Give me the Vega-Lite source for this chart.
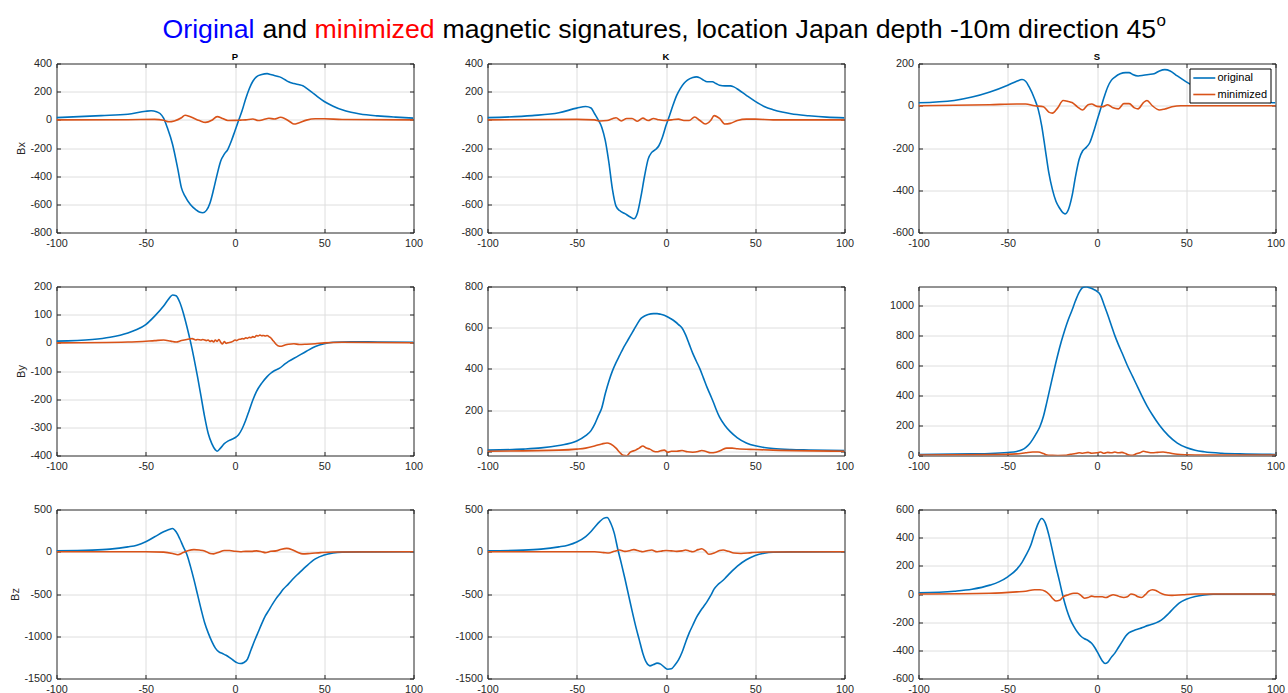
{
"$schema": "https://vega.github.io/schema/vega-lite/v6.json",
"padding": {"left": 8.5, "top": 12, "right": 0, "bottom": 0},
"background": "white",
"datasets": {
"PBx": [
{"series":"original","x":-100,"y":16},{"series":"original","x":-75,"y":30},{"series":"original","x":-60,"y":40},{"series":"original","x":-50,"y":61},{"series":"original","x":-47,"y":64},{"series":"original","x":-44,"y":58},{"series":"original","x":-42,"y":45},{"series":"original","x":-40,"y":12},{"series":"original","x":-38,"y":-53},{"series":"original","x":-35,"y":-173},{"series":"original","x":-32,"y":-352},{"series":"original","x":-30,"y":-483},{"series":"original","x":-28,"y":-542},{"series":"original","x":-25,"y":-602},{"series":"original","x":-22,"y":-638},{"series":"original","x":-20,"y":-655},{"series":"original","x":-18,"y":-660},{"series":"original","x":-16,"y":-643},{"series":"original","x":-14,"y":-590},{"series":"original","x":-12,"y":-495},{"series":"original","x":-10,"y":-387},{"series":"original","x":-8,"y":-292},{"series":"original","x":-6,"y":-244},{"series":"original","x":-4,"y":-209},{"series":"original","x":-2,"y":-149},{"series":"original","x":0,"y":-77},{"series":"original","x":2,"y":-5},{"series":"original","x":4,"y":66},{"series":"original","x":6,"y":150},{"series":"original","x":8,"y":221},{"series":"original","x":10,"y":274},{"series":"original","x":12,"y":305},{"series":"original","x":15,"y":322},{"series":"original","x":18,"y":328},{"series":"original","x":20,"y":322},{"series":"original","x":22,"y":315},{"series":"original","x":25,"y":305},{"series":"original","x":28,"y":285},{"series":"original","x":30,"y":270},{"series":"original","x":33,"y":258},{"series":"original","x":36,"y":249},{"series":"original","x":38,"y":242},{"series":"original","x":40,"y":225},{"series":"original","x":43,"y":197},{"series":"original","x":46,"y":166},{"series":"original","x":50,"y":130},{"series":"original","x":55,"y":97},{"series":"original","x":60,"y":71},{"series":"original","x":65,"y":54},{"series":"original","x":70,"y":42},{"series":"original","x":80,"y":28},{"series":"original","x":90,"y":19},{"series":"original","x":100,"y":12},
{"series":"minimized","x":-100,"y":0},{"series":"minimized","x":-60,"y":1},{"series":"minimized","x":-45,"y":3},{"series":"minimized","x":-40,"y":-3},{"series":"minimized","x":-37,"y":-14},{"series":"minimized","x":-34,"y":-8},{"series":"minimized","x":-30,"y":15},{"series":"minimized","x":-28,"y":33},{"series":"minimized","x":-25,"y":22},{"series":"minimized","x":-20,"y":-5},{"series":"minimized","x":-16.5,"y":-18},{"series":"minimized","x":-13,"y":-3},{"series":"minimized","x":-10,"y":23},{"series":"minimized","x":-7,"y":10},{"series":"minimized","x":-4,"y":-5},{"series":"minimized","x":0,"y":-4},{"series":"minimized","x":3,"y":-2},{"series":"minimized","x":6,"y":0},{"series":"minimized","x":10,"y":6},{"series":"minimized","x":13,"y":-5},{"series":"minimized","x":16,"y":2},{"series":"minimized","x":19,"y":11},{"series":"minimized","x":22,"y":6},{"series":"minimized","x":25.5,"y":18},{"series":"minimized","x":28,"y":8},{"series":"minimized","x":31,"y":-15},{"series":"minimized","x":33,"y":-30},{"series":"minimized","x":36,"y":-20},{"series":"minimized","x":40,"y":-2},{"series":"minimized","x":45,"y":8},{"series":"minimized","x":50,"y":8},{"series":"minimized","x":60,"y":2},{"series":"minimized","x":100,"y":0}
],
"KBx": [
{"series":"original","x":-100,"y":16},{"series":"original","x":-75,"y":30},{"series":"original","x":-60,"y":50},{"series":"original","x":-50,"y":83},{"series":"original","x":-45,"y":95},{"series":"original","x":-42,"y":84},{"series":"original","x":-40,"y":43},{"series":"original","x":-38,"y":0},{"series":"original","x":-36,"y":-52},{"series":"original","x":-34,"y":-148},{"series":"original","x":-32,"y":-303},{"series":"original","x":-30,"y":-494},{"series":"original","x":-28,"y":-613},{"series":"original","x":-26,"y":-644},{"series":"original","x":-23,"y":-666},{"series":"original","x":-20,"y":-690},{"series":"original","x":-18,"y":-702},{"series":"original","x":-16,"y":-661},{"series":"original","x":-14,"y":-542},{"series":"original","x":-12,"y":-399},{"series":"original","x":-10,"y":-279},{"series":"original","x":-8,"y":-231},{"series":"original","x":-6,"y":-212},{"series":"original","x":-4,"y":-184},{"series":"original","x":-2,"y":-124},{"series":"original","x":0,"y":-41},{"series":"original","x":2,"y":31},{"series":"original","x":4,"y":107},{"series":"original","x":6,"y":174},{"series":"original","x":8,"y":222},{"series":"original","x":10,"y":258},{"series":"original","x":12,"y":282},{"series":"original","x":15,"y":301},{"series":"original","x":17,"y":305},{"series":"original","x":19,"y":298},{"series":"original","x":21,"y":282},{"series":"original","x":23,"y":270},{"series":"original","x":26,"y":270},{"series":"original","x":28,"y":258},{"series":"original","x":30,"y":246},{"series":"original","x":33,"y":241},{"series":"original","x":36,"y":241},{"series":"original","x":38,"y":234},{"series":"original","x":41,"y":210},{"series":"original","x":45,"y":174},{"series":"original","x":50,"y":131},{"series":"original","x":55,"y":95},{"series":"original","x":60,"y":72},{"series":"original","x":65,"y":55},{"series":"original","x":70,"y":43},{"series":"original","x":80,"y":29},{"series":"original","x":90,"y":19},{"series":"original","x":100,"y":14},
{"series":"minimized","x":-100,"y":0},{"series":"minimized","x":-50,"y":3},{"series":"minimized","x":-40,"y":0},{"series":"minimized","x":-37,"y":-8},{"series":"minimized","x":-33,"y":-5},{"series":"minimized","x":-30,"y":8},{"series":"minimized","x":-28,"y":15},{"series":"minimized","x":-25,"y":-8},{"series":"minimized","x":-22,"y":10},{"series":"minimized","x":-19,"y":10},{"series":"minimized","x":-16,"y":-10},{"series":"minimized","x":-13,"y":12},{"series":"minimized","x":-10,"y":-5},{"series":"minimized","x":-7,"y":10},{"series":"minimized","x":-4,"y":0},{"series":"minimized","x":-1,"y":-5},{"series":"minimized","x":3,"y":0},{"series":"minimized","x":7,"y":5},{"series":"minimized","x":10,"y":-5},{"series":"minimized","x":13,"y":-5},{"series":"minimized","x":16,"y":20},{"series":"minimized","x":19,"y":-5},{"series":"minimized","x":22,"y":-30},{"series":"minimized","x":25,"y":-5},{"series":"minimized","x":27,"y":30},{"series":"minimized","x":30,"y":10},{"series":"minimized","x":33,"y":-30},{"series":"minimized","x":36,"y":-25},{"series":"minimized","x":40,"y":-5},{"series":"minimized","x":45,"y":5},{"series":"minimized","x":50,"y":5},{"series":"minimized","x":60,"y":0},{"series":"minimized","x":100,"y":0}
],
"SBx": [
{"series":"original","x":-100,"y":14},{"series":"original","x":-80,"y":25},{"series":"original","x":-70,"y":41},{"series":"original","x":-60,"y":65},{"series":"original","x":-50,"y":97},{"series":"original","x":-45,"y":116},{"series":"original","x":-42,"y":124},{"series":"original","x":-40,"y":116},{"series":"original","x":-38,"y":89},{"series":"original","x":-35,"y":33},{"series":"original","x":-33,"y":-15},{"series":"original","x":-31,"y":-94},{"series":"original","x":-29,"y":-205},{"series":"original","x":-27,"y":-317},{"series":"original","x":-25,"y":-396},{"series":"original","x":-23,"y":-452},{"series":"original","x":-21,"y":-484},{"series":"original","x":-19,"y":-507},{"series":"original","x":-18,"y":-512},{"series":"original","x":-16,"y":-491},{"series":"original","x":-14,"y":-428},{"series":"original","x":-12,"y":-333},{"series":"original","x":-10,"y":-253},{"series":"original","x":-8,"y":-213},{"series":"original","x":-6,"y":-197},{"series":"original","x":-4,"y":-174},{"series":"original","x":-2,"y":-126},{"series":"original","x":0,"y":-70},{"series":"original","x":2,"y":-15},{"series":"original","x":4,"y":41},{"series":"original","x":6,"y":89},{"series":"original","x":8,"y":120},{"series":"original","x":10,"y":136},{"series":"original","x":13,"y":152},{"series":"original","x":16,"y":157},{"series":"original","x":18,"y":157},{"series":"original","x":20,"y":148},{"series":"original","x":23,"y":141},{"series":"original","x":26,"y":144},{"series":"original","x":29,"y":148},{"series":"original","x":32,"y":152},{"series":"original","x":35,"y":165},{"series":"original","x":38,"y":171},{"series":"original","x":41,"y":165},{"series":"original","x":45,"y":141},{"series":"original","x":50,"y":113},{"series":"original","x":55,"y":89},{"series":"original","x":60,"y":68},{"series":"original","x":70,"y":41},{"series":"original","x":80,"y":28},{"series":"original","x":90,"y":20},{"series":"original","x":100,"y":14},
{"series":"minimized","x":-100,"y":0},{"series":"minimized","x":-60,"y":5},{"series":"minimized","x":-45,"y":8},{"series":"minimized","x":-40,"y":8},{"series":"minimized","x":-35,"y":0},{"series":"minimized","x":-30,"y":-5},{"series":"minimized","x":-27,"y":-30},{"series":"minimized","x":-25,"y":-35},{"series":"minimized","x":-22,"y":-10},{"series":"minimized","x":-19,"y":25},{"series":"minimized","x":-16,"y":20},{"series":"minimized","x":-14,"y":15},{"series":"minimized","x":-11,"y":-5},{"series":"minimized","x":-8,"y":-20},{"series":"minimized","x":-5,"y":5},{"series":"minimized","x":-3,"y":8},{"series":"minimized","x":0,"y":-3},{"series":"minimized","x":3,"y":-5},{"series":"minimized","x":6,"y":5},{"series":"minimized","x":9,"y":-10},{"series":"minimized","x":12,"y":-15},{"series":"minimized","x":15,"y":10},{"series":"minimized","x":18,"y":10},{"series":"minimized","x":21,"y":-10},{"series":"minimized","x":23,"y":-15},{"series":"minimized","x":26,"y":15},{"series":"minimized","x":28,"y":25},{"series":"minimized","x":31,"y":0},{"series":"minimized","x":35,"y":-20},{"series":"minimized","x":38,"y":-15},{"series":"minimized","x":42,"y":-5},{"series":"minimized","x":47,"y":0},{"series":"minimized","x":55,"y":0},{"series":"minimized","x":100,"y":0}
],
"PBy": [
{"series":"original","x":-100,"y":6},{"series":"original","x":-80,"y":12},{"series":"original","x":-70,"y":20},{"series":"original","x":-60,"y":35},{"series":"original","x":-55,"y":47},{"series":"original","x":-50,"y":65},{"series":"original","x":-45,"y":95},{"series":"original","x":-40,"y":131},{"series":"original","x":-37,"y":157},{"series":"original","x":-35,"y":170},{"series":"original","x":-33,"y":167},{"series":"original","x":-31,"y":145},{"series":"original","x":-29,"y":107},{"series":"original","x":-27,"y":59},{"series":"original","x":-25,"y":6},{"series":"original","x":-23,"y":-54},{"series":"original","x":-21,"y":-120},{"series":"original","x":-19,"y":-191},{"series":"original","x":-17,"y":-263},{"series":"original","x":-15,"y":-322},{"series":"original","x":-13,"y":-358},{"series":"original","x":-11,"y":-380},{"series":"original","x":-10,"y":-385},{"series":"original","x":-8,"y":-373},{"series":"original","x":-6,"y":-358},{"series":"original","x":-4,"y":-349},{"series":"original","x":-2,"y":-343},{"series":"original","x":0,"y":-337},{"series":"original","x":2,"y":-326},{"series":"original","x":4,"y":-305},{"series":"original","x":6,"y":-275},{"series":"original","x":8,"y":-239},{"series":"original","x":10,"y":-203},{"series":"original","x":12,"y":-173},{"series":"original","x":15,"y":-143},{"series":"original","x":18,"y":-120},{"series":"original","x":20,"y":-108},{"series":"original","x":22,"y":-99},{"series":"original","x":25,"y":-90},{"series":"original","x":28,"y":-75},{"series":"original","x":30,"y":-66},{"series":"original","x":35,"y":-48},{"series":"original","x":40,"y":-30},{"series":"original","x":45,"y":-13},{"series":"original","x":50,"y":-3},{"series":"original","x":55,"y":2},{"series":"original","x":65,"y":4},{"series":"original","x":80,"y":3},{"series":"original","x":100,"y":2},
{"series":"minimized","x":-100,"y":0},{"series":"minimized","x":-60,"y":3},{"series":"minimized","x":-45,"y":8},{"series":"minimized","x":-40,"y":10},{"series":"minimized","x":-36,"y":6},{"series":"minimized","x":-33,"y":3},{"series":"minimized","x":-30,"y":8},{"series":"minimized","x":-27,"y":12},{"series":"minimized","x":-25,"y":14},{"series":"minimized","x":-24,"y":15},{"series":"minimized","x":-22,"y":10},{"series":"minimized","x":-21,"y":12},{"series":"minimized","x":-19,"y":10},{"series":"minimized","x":-18,"y":12},{"series":"minimized","x":-16,"y":8},{"series":"minimized","x":-15,"y":10},{"series":"minimized","x":-14,"y":5},{"series":"minimized","x":-13,"y":8},{"series":"minimized","x":-12,"y":3},{"series":"minimized","x":-11,"y":10},{"series":"minimized","x":-10,"y":5},{"series":"minimized","x":-9,"y":12},{"series":"minimized","x":-8,"y":2},{"series":"minimized","x":-7,"y":-4},{"series":"minimized","x":-6,"y":5},{"series":"minimized","x":-5,"y":-2},{"series":"minimized","x":-4,"y":0},{"series":"minimized","x":-2,"y":3},{"series":"minimized","x":-1,"y":6},{"series":"minimized","x":0,"y":10},{"series":"minimized","x":1,"y":8},{"series":"minimized","x":2,"y":12},{"series":"minimized","x":3,"y":13},{"series":"minimized","x":4,"y":15},{"series":"minimized","x":5,"y":14},{"series":"minimized","x":6,"y":18},{"series":"minimized","x":7,"y":16},{"series":"minimized","x":8,"y":20},{"series":"minimized","x":9,"y":18},{"series":"minimized","x":10,"y":22},{"series":"minimized","x":11,"y":20},{"series":"minimized","x":12,"y":26},{"series":"minimized","x":13,"y":24},{"series":"minimized","x":14,"y":28},{"series":"minimized","x":15,"y":25},{"series":"minimized","x":16,"y":26},{"series":"minimized","x":17,"y":24},{"series":"minimized","x":18,"y":26},{"series":"minimized","x":19,"y":22},{"series":"minimized","x":20,"y":18},{"series":"minimized","x":21,"y":10},{"series":"minimized","x":22,"y":3},{"series":"minimized","x":23,"y":-5},{"series":"minimized","x":24,"y":-10},{"series":"minimized","x":26,"y":-12},{"series":"minimized","x":28,"y":-8},{"series":"minimized","x":30,"y":-5},{"series":"minimized","x":33,"y":-3},{"series":"minimized","x":36,"y":-6},{"series":"minimized","x":40,"y":-5},{"series":"minimized","x":45,"y":-3},{"series":"minimized","x":50,"y":0},{"series":"minimized","x":60,"y":2},{"series":"minimized","x":100,"y":0}
],
"KBy": [
{"series":"original","x":-100,"y":5},{"series":"original","x":-80,"y":10},{"series":"original","x":-70,"y":16},{"series":"original","x":-60,"y":28},{"series":"original","x":-50,"y":49},{"series":"original","x":-45,"y":75},{"series":"original","x":-42,"y":100},{"series":"original","x":-40,"y":130},{"series":"original","x":-38,"y":170},{"series":"original","x":-36,"y":210},{"series":"original","x":-34,"y":280},{"series":"original","x":-32,"y":340},{"series":"original","x":-30,"y":390},{"series":"original","x":-28,"y":430},{"series":"original","x":-26,"y":465},{"series":"original","x":-24,"y":500},{"series":"original","x":-22,"y":530},{"series":"original","x":-20,"y":560},{"series":"original","x":-18,"y":590},{"series":"original","x":-16,"y":620},{"series":"original","x":-14,"y":645},{"series":"original","x":-12,"y":657},{"series":"original","x":-10,"y":664},{"series":"original","x":-7,"y":668},{"series":"original","x":-5,"y":668},{"series":"original","x":-3,"y":665},{"series":"original","x":-1,"y":660},{"series":"original","x":1,"y":652},{"series":"original","x":3,"y":642},{"series":"original","x":5,"y":630},{"series":"original","x":7,"y":615},{"series":"original","x":9,"y":598},{"series":"original","x":11,"y":565},{"series":"original","x":13,"y":520},{"series":"original","x":15,"y":475},{"series":"original","x":17,"y":437},{"series":"original","x":19,"y":400},{"series":"original","x":21,"y":355},{"series":"original","x":23,"y":310},{"series":"original","x":25,"y":270},{"series":"original","x":27,"y":228},{"series":"original","x":28,"y":205},{"series":"original","x":30,"y":165},{"series":"original","x":33,"y":125},{"series":"original","x":36,"y":95},{"series":"original","x":40,"y":65},{"series":"original","x":45,"y":40},{"series":"original","x":50,"y":26},{"series":"original","x":55,"y":18},{"series":"original","x":60,"y":13},{"series":"original","x":70,"y":8},{"series":"original","x":80,"y":6},{"series":"original","x":100,"y":3},
{"series":"minimized","x":-100,"y":0},{"series":"minimized","x":-60,"y":5},{"series":"minimized","x":-50,"y":10},{"series":"minimized","x":-45,"y":15},{"series":"minimized","x":-40,"y":25},{"series":"minimized","x":-36,"y":35},{"series":"minimized","x":-33,"y":40},{"series":"minimized","x":-31,"y":35},{"series":"minimized","x":-28,"y":15},{"series":"minimized","x":-26,"y":-5},{"series":"minimized","x":-24,"y":-20},{"series":"minimized","x":-22,"y":-22},{"series":"minimized","x":-20,"y":-5},{"series":"minimized","x":-17,"y":5},{"series":"minimized","x":-15,"y":15},{"series":"minimized","x":-13,"y":25},{"series":"minimized","x":-11,"y":15},{"series":"minimized","x":-9,"y":10},{"series":"minimized","x":-7,"y":0},{"series":"minimized","x":-5,"y":-3},{"series":"minimized","x":-3,"y":2},{"series":"minimized","x":-1,"y":5},{"series":"minimized","x":1,"y":-5},{"series":"minimized","x":3,"y":0},{"series":"minimized","x":6,"y":0},{"series":"minimized","x":9,"y":3},{"series":"minimized","x":12,"y":-3},{"series":"minimized","x":15,"y":-5},{"series":"minimized","x":18,"y":-2},{"series":"minimized","x":20,"y":3},{"series":"minimized","x":22,"y":0},{"series":"minimized","x":25,"y":-8},{"series":"minimized","x":28,"y":-5},{"series":"minimized","x":31,"y":5},{"series":"minimized","x":34,"y":15},{"series":"minimized","x":37,"y":15},{"series":"minimized","x":40,"y":12},{"series":"minimized","x":50,"y":8},{"series":"minimized","x":60,"y":5},{"series":"minimized","x":100,"y":0}
],
"SBy": [
{"series":"original","x":-100,"y":4},{"series":"original","x":-70,"y":8},{"series":"original","x":-60,"y":10},{"series":"original","x":-50,"y":17},{"series":"original","x":-45,"y":24},{"series":"original","x":-42,"y":35},{"series":"original","x":-40,"y":50},{"series":"original","x":-38,"y":72},{"series":"original","x":-36,"y":105},{"series":"original","x":-34,"y":145},{"series":"original","x":-32,"y":190},{"series":"original","x":-30,"y":260},{"series":"original","x":-28,"y":360},{"series":"original","x":-26,"y":465},{"series":"original","x":-24,"y":570},{"series":"original","x":-22,"y":670},{"series":"original","x":-20,"y":760},{"series":"original","x":-18,"y":840},{"series":"original","x":-16,"y":910},{"series":"original","x":-14,"y":970},{"series":"original","x":-12,"y":1035},{"series":"original","x":-10,"y":1090},{"series":"original","x":-8,"y":1122},{"series":"original","x":-6,"y":1128},{"series":"original","x":-4,"y":1120},{"series":"original","x":-2,"y":1110},{"series":"original","x":0,"y":1097},{"series":"original","x":2,"y":1070},{"series":"original","x":4,"y":1005},{"series":"original","x":6,"y":940},{"series":"original","x":8,"y":870},{"series":"original","x":10,"y":800},{"series":"original","x":12,"y":740},{"series":"original","x":14,"y":685},{"series":"original","x":17,"y":600},{"series":"original","x":20,"y":525},{"series":"original","x":23,"y":450},{"series":"original","x":25,"y":400},{"series":"original","x":28,"y":330},{"series":"original","x":31,"y":270},{"series":"original","x":35,"y":200},{"series":"original","x":40,"y":130},{"series":"original","x":45,"y":80},{"series":"original","x":50,"y":50},{"series":"original","x":55,"y":32},{"series":"original","x":60,"y":22},{"series":"original","x":70,"y":12},{"series":"original","x":80,"y":8},{"series":"original","x":100,"y":4},
{"series":"minimized","x":-100,"y":0},{"series":"minimized","x":-60,"y":3},{"series":"minimized","x":-45,"y":8},{"series":"minimized","x":-40,"y":15},{"series":"minimized","x":-36,"y":20},{"series":"minimized","x":-33,"y":20},{"series":"minimized","x":-30,"y":10},{"series":"minimized","x":-28,"y":0},{"series":"minimized","x":-25,"y":-2},{"series":"minimized","x":-22,"y":-3},{"series":"minimized","x":-18,"y":-2},{"series":"minimized","x":-15,"y":5},{"series":"minimized","x":-12,"y":10},{"series":"minimized","x":-10,"y":15},{"series":"minimized","x":-8,"y":12},{"series":"minimized","x":-5,"y":18},{"series":"minimized","x":-3,"y":12},{"series":"minimized","x":0,"y":15},{"series":"minimized","x":2,"y":20},{"series":"minimized","x":4,"y":12},{"series":"minimized","x":6,"y":18},{"series":"minimized","x":8,"y":15},{"series":"minimized","x":10,"y":20},{"series":"minimized","x":12,"y":15},{"series":"minimized","x":14,"y":18},{"series":"minimized","x":16,"y":10},{"series":"minimized","x":18,"y":0},{"series":"minimized","x":20,"y":-2},{"series":"minimized","x":22,"y":8},{"series":"minimized","x":24,"y":15},{"series":"minimized","x":26,"y":25},{"series":"minimized","x":28,"y":20},{"series":"minimized","x":31,"y":15},{"series":"minimized","x":34,"y":18},{"series":"minimized","x":37,"y":20},{"series":"minimized","x":40,"y":15},{"series":"minimized","x":45,"y":5},{"series":"minimized","x":50,"y":2},{"series":"minimized","x":60,"y":0},{"series":"minimized","x":100,"y":0}
],
"PBz": [
{"series":"original","x":-100,"y":11},{"series":"original","x":-80,"y":19},{"series":"original","x":-70,"y":31},{"series":"original","x":-60,"y":58},{"series":"original","x":-55,"y":78},{"series":"original","x":-50,"y":118},{"series":"original","x":-45,"y":177},{"series":"original","x":-40,"y":236},{"series":"original","x":-37,"y":263},{"series":"original","x":-35,"y":275},{"series":"original","x":-33,"y":236},{"series":"original","x":-31,"y":157},{"series":"original","x":-29,"y":60},{"series":"original","x":-27,"y":-30},{"series":"original","x":-25,"y":-170},{"series":"original","x":-23,"y":-330},{"series":"original","x":-21,"y":-505},{"series":"original","x":-19,"y":-680},{"series":"original","x":-17,"y":-840},{"series":"original","x":-15,"y":-960},{"series":"original","x":-13,"y":-1060},{"series":"original","x":-11,"y":-1140},{"series":"original","x":-9,"y":-1185},{"series":"original","x":-7,"y":-1205},{"series":"original","x":-5,"y":-1225},{"series":"original","x":-3,"y":-1252},{"series":"original","x":-1,"y":-1284},{"series":"original","x":1,"y":-1312},{"series":"original","x":3,"y":-1323},{"series":"original","x":5,"y":-1310},{"series":"original","x":7,"y":-1270},{"series":"original","x":9,"y":-1160},{"series":"original","x":11,"y":-1050},{"series":"original","x":13,"y":-950},{"series":"original","x":15,"y":-850},{"series":"original","x":17,"y":-760},{"series":"original","x":19,"y":-690},{"series":"original","x":21,"y":-620},{"series":"original","x":23,"y":-555},{"series":"original","x":25,"y":-500},{"series":"original","x":27,"y":-445},{"series":"original","x":30,"y":-380},{"series":"original","x":33,"y":-310},{"series":"original","x":36,"y":-250},{"series":"original","x":40,"y":-170},{"series":"original","x":45,"y":-85},{"series":"original","x":50,"y":-38},{"series":"original","x":55,"y":-15},{"series":"original","x":60,"y":-5},{"series":"original","x":70,"y":-1},{"series":"original","x":100,"y":0},
{"series":"minimized","x":-100,"y":0},{"series":"minimized","x":-50,"y":0},{"series":"minimized","x":-40,"y":-5},{"series":"minimized","x":-35,"y":-20},{"series":"minimized","x":-32,"y":-35},{"series":"minimized","x":-29,"y":-10},{"series":"minimized","x":-26,"y":15},{"series":"minimized","x":-23,"y":25},{"series":"minimized","x":-20,"y":20},{"series":"minimized","x":-17,"y":10},{"series":"minimized","x":-14,"y":-20},{"series":"minimized","x":-12,"y":-25},{"series":"minimized","x":-9,"y":-5},{"series":"minimized","x":-6,"y":15},{"series":"minimized","x":-3,"y":15},{"series":"minimized","x":0,"y":5},{"series":"minimized","x":3,"y":0},{"series":"minimized","x":6,"y":5},{"series":"minimized","x":9,"y":5},{"series":"minimized","x":12,"y":10},{"series":"minimized","x":15,"y":0},{"series":"minimized","x":17,"y":-10},{"series":"minimized","x":20,"y":5},{"series":"minimized","x":23,"y":10},{"series":"minimized","x":26,"y":30},{"series":"minimized","x":29,"y":40},{"series":"minimized","x":32,"y":25},{"series":"minimized","x":35,"y":-5},{"series":"minimized","x":38,"y":-25},{"series":"minimized","x":42,"y":-20},{"series":"minimized","x":48,"y":-10},{"series":"minimized","x":55,"y":-3},{"series":"minimized","x":100,"y":0}
],
"KBz": [
{"series":"original","x":-100,"y":11},{"series":"original","x":-80,"y":19},{"series":"original","x":-70,"y":31},{"series":"original","x":-60,"y":58},{"series":"original","x":-55,"y":78},{"series":"original","x":-50,"y":115},{"series":"original","x":-45,"y":180},{"series":"original","x":-42,"y":240},{"series":"original","x":-40,"y":290},{"series":"original","x":-37,"y":360},{"series":"original","x":-35,"y":395},{"series":"original","x":-33,"y":405},{"series":"original","x":-31,"y":340},{"series":"original","x":-29,"y":220},{"series":"original","x":-27,"y":30},{"series":"original","x":-25,"y":-140},{"series":"original","x":-23,"y":-320},{"series":"original","x":-21,"y":-510},{"series":"original","x":-19,"y":-700},{"series":"original","x":-17,"y":-880},{"series":"original","x":-15,"y":-1040},{"series":"original","x":-13,"y":-1200},{"series":"original","x":-11,"y":-1310},{"series":"original","x":-9,"y":-1350},{"series":"original","x":-7,"y":-1335},{"series":"original","x":-5,"y":-1318},{"series":"original","x":-3,"y":-1330},{"series":"original","x":-1,"y":-1365},{"series":"original","x":1,"y":-1390},{"series":"original","x":3,"y":-1385},{"series":"original","x":5,"y":-1340},{"series":"original","x":7,"y":-1280},{"series":"original","x":9,"y":-1190},{"series":"original","x":11,"y":-1070},{"series":"original","x":13,"y":-960},{"series":"original","x":15,"y":-870},{"series":"original","x":17,"y":-780},{"series":"original","x":19,"y":-710},{"series":"original","x":21,"y":-650},{"series":"original","x":23,"y":-590},{"series":"original","x":25,"y":-520},{"series":"original","x":27,"y":-440},{"series":"original","x":29,"y":-390},{"series":"original","x":31,"y":-355},{"series":"original","x":33,"y":-316},{"series":"original","x":36,"y":-250},{"series":"original","x":40,"y":-170},{"series":"original","x":45,"y":-95},{"series":"original","x":50,"y":-45},{"series":"original","x":55,"y":-18},{"series":"original","x":60,"y":-6},{"series":"original","x":70,"y":-1},{"series":"original","x":100,"y":0},
{"series":"minimized","x":-100,"y":0},{"series":"minimized","x":-50,"y":0},{"series":"minimized","x":-40,"y":0},{"series":"minimized","x":-35,"y":-10},{"series":"minimized","x":-32,"y":-15},{"series":"minimized","x":-29,"y":5},{"series":"minimized","x":-26,"y":20},{"series":"minimized","x":-23,"y":5},{"series":"minimized","x":-20,"y":15},{"series":"minimized","x":-18,"y":25},{"series":"minimized","x":-15,"y":10},{"series":"minimized","x":-13,"y":0},{"series":"minimized","x":-10,"y":15},{"series":"minimized","x":-8,"y":20},{"series":"minimized","x":-5,"y":0},{"series":"minimized","x":-2,"y":10},{"series":"minimized","x":0,"y":15},{"series":"minimized","x":3,"y":10},{"series":"minimized","x":6,"y":5},{"series":"minimized","x":9,"y":10},{"series":"minimized","x":11,"y":20},{"series":"minimized","x":13,"y":10},{"series":"minimized","x":15,"y":0},{"series":"minimized","x":18,"y":25},{"series":"minimized","x":20,"y":35},{"series":"minimized","x":22,"y":10},{"series":"minimized","x":24,"y":-30},{"series":"minimized","x":27,"y":-15},{"series":"minimized","x":30,"y":15},{"series":"minimized","x":32,"y":20},{"series":"minimized","x":35,"y":5},{"series":"minimized","x":38,"y":-15},{"series":"minimized","x":42,"y":-20},{"series":"minimized","x":48,"y":-10},{"series":"minimized","x":55,"y":-3},{"series":"minimized","x":100,"y":0}
],
"SBz": [
{"series":"original","x":-100,"y":8},{"series":"original","x":-80,"y":20},{"series":"original","x":-70,"y":34},{"series":"original","x":-60,"y":63},{"series":"original","x":-55,"y":86},{"series":"original","x":-50,"y":122},{"series":"original","x":-45,"y":175},{"series":"original","x":-42,"y":225},{"series":"original","x":-40,"y":270},{"series":"original","x":-37,"y":350},{"series":"original","x":-35,"y":430},{"series":"original","x":-33,"y":500},{"series":"original","x":-31,"y":536},{"series":"original","x":-29,"y":505},{"series":"original","x":-27,"y":420},{"series":"original","x":-25,"y":310},{"series":"original","x":-23,"y":195},{"series":"original","x":-21,"y":90},{"series":"original","x":-19,"y":-20},{"series":"original","x":-17,"y":-110},{"series":"original","x":-15,"y":-180},{"series":"original","x":-13,"y":-230},{"series":"original","x":-11,"y":-270},{"series":"original","x":-9,"y":-300},{"series":"original","x":-7,"y":-318},{"series":"original","x":-5,"y":-330},{"series":"original","x":-3,"y":-350},{"series":"original","x":-1,"y":-385},{"series":"original","x":1,"y":-430},{"series":"original","x":3,"y":-475},{"series":"original","x":4.5,"y":-494},{"series":"original","x":6,"y":-485},{"series":"original","x":8,"y":-450},{"series":"original","x":10,"y":-420},{"series":"original","x":12,"y":-380},{"series":"original","x":14,"y":-340},{"series":"original","x":16,"y":-300},{"series":"original","x":18,"y":-275},{"series":"original","x":21,"y":-257},{"series":"original","x":24,"y":-245},{"series":"original","x":27,"y":-230},{"series":"original","x":30,"y":-218},{"series":"original","x":33,"y":-205},{"series":"original","x":36,"y":-185},{"series":"original","x":40,"y":-140},{"series":"original","x":43,"y":-100},{"series":"original","x":46,"y":-65},{"series":"original","x":50,"y":-38},{"series":"original","x":55,"y":-18},{"series":"original","x":60,"y":-7},{"series":"original","x":65,"y":-2},{"series":"original","x":100,"y":0},
{"series":"minimized","x":-100,"y":0},{"series":"minimized","x":-60,"y":5},{"series":"minimized","x":-45,"y":15},{"series":"minimized","x":-40,"y":20},{"series":"minimized","x":-35,"y":30},{"series":"minimized","x":-32,"y":30},{"series":"minimized","x":-29,"y":20},{"series":"minimized","x":-27,"y":0},{"series":"minimized","x":-25,"y":-30},{"series":"minimized","x":-23,"y":-50},{"series":"minimized","x":-21,"y":-45},{"series":"minimized","x":-19,"y":-20},{"series":"minimized","x":-16,"y":-5},{"series":"minimized","x":-13,"y":5},{"series":"minimized","x":-11,"y":5},{"series":"minimized","x":-9,"y":-10},{"series":"minimized","x":-7,"y":-30},{"series":"minimized","x":-5,"y":-25},{"series":"minimized","x":-3,"y":-15},{"series":"minimized","x":-1,"y":-20},{"series":"minimized","x":1,"y":-20},{"series":"minimized","x":3,"y":-20},{"series":"minimized","x":5,"y":-25},{"series":"minimized","x":7,"y":-15},{"series":"minimized","x":9,"y":-5},{"series":"minimized","x":11,"y":-10},{"series":"minimized","x":13,"y":-20},{"series":"minimized","x":15,"y":-25},{"series":"minimized","x":17,"y":-20},{"series":"minimized","x":19,"y":0},{"series":"minimized","x":21,"y":-5},{"series":"minimized","x":23,"y":-20},{"series":"minimized","x":25,"y":-25},{"series":"minimized","x":27,"y":-5},{"series":"minimized","x":29,"y":20},{"series":"minimized","x":31,"y":30},{"series":"minimized","x":33,"y":25},{"series":"minimized","x":35,"y":10},{"series":"minimized","x":38,"y":-5},{"series":"minimized","x":42,"y":-10},{"series":"minimized","x":48,"y":-5},{"series":"minimized","x":55,"y":0},{"series":"minimized","x":100,"y":0}
]
},
"vconcat": [
{
"hconcat": [
{"width": 106, "height": 0, "view": {"stroke": null}, "data": {"values": []}, "mark": "point", "encoding": {}},
{"width": 99.4, "height": 0, "view": {"stroke": null}, "data": {"values": []}, "mark": "point", "encoding": {}, "title": {"text": "Original", "color": "#0000FF", "fontSize": 26.7, "fontWeight": "normal", "anchor": "start", "frame": "group", "offset": 0}},
{"width": 52.0, "height": 0, "view": {"stroke": null}, "data": {"values": []}, "mark": "point", "encoding": {}, "title": {"text": "and", "color": "#000000", "fontSize": 26.7, "fontWeight": "normal", "anchor": "start", "frame": "group", "offset": 0}},
{"width": 127.6, "height": 0, "view": {"stroke": null}, "data": {"values": []}, "mark": "point", "encoding": {}, "title": {"text": "minimized", "color": "#FF0000", "fontSize": 26.7, "fontWeight": "normal", "anchor": "start", "frame": "group", "offset": 0}},
{"width": 713.8, "height": 0, "view": {"stroke": null}, "data": {"values": []}, "mark": "point", "encoding": {}, "title": {"text": "magnetic signatures, location Japan depth -10m direction 45", "color": "#000000", "fontSize": 26.7, "fontWeight": "normal", "anchor": "start", "frame": "group", "offset": 0}},
{"width": 14, "height": 0, "view": {"stroke": null}, "data": {"values": []}, "mark": "point", "encoding": {}, "title": {"text": "o", "color": "#000000", "fontSize": 17, "fontWeight": "normal", "anchor": "start", "frame": "group", "offset": 0, "dy": -14}}
],
"spacing": 0,
"bounds": "flush"
},
{
"columns": 3,
"spacing": {"row": 54, "column": 74},
"bounds": "flush",
"resolve": {"scale": {"color": "independent", "x": "independent", "y": "independent"}, "legend": {"color": "independent"}},
"concat": [
{"width": 357, "height": 169, "data": {"name": "PBx"}, "title": {"text": "P", "fontSize": 9.5, "fontWeight": "bold", "offset": 3, "dy": 7, "anchor": "middle"},
 "resolve": {"axis": {"x": "independent", "y": "independent"}},
 "layer": [
  {"mark": {"type": "line", "strokeWidth": 1.6, "interpolate": "monotone", "clip": true},
   "encoding": {
    "x": {"field": "x", "type": "quantitative", "scale": {"domain": [-100, 100], "nice": false}, "axis": {"values": [-100, -50, 0, 50, 100], "title": null, "gridColor": {"condition": {"test": "datum.value == -100 || datum.value == 100", "value": "rgba(0,0,0,0)"}, "value": "#dedede"}}},
    "y": {"field": "y", "type": "quantitative", "scale": {"domain": [-800, 400], "nice": false, "zero": false}, "axis": {"values": [-800, -600, -400, -200, 0, 200, 400], "title": "Bx", "gridColor": {"condition": {"test": "datum.value == -800 || datum.value == 400", "value": "rgba(0,0,0,0)"}, "value": "#dedede"}}},
    "color": {"field": "series", "type": "nominal", "sort": ["original", "minimized"], "scale": {"domain": ["original", "minimized"], "range": ["#0072BD", "#D95319"]}, "legend": null}}},
  {"mark": {"type": "line", "opacity": 0},
   "encoding": {
    "x": {"field": "x", "type": "quantitative", "scale": {"domain": [-100, 100], "nice": false}, "axis": {"orient": "top", "values": [-100, -50, 0, 50, 100], "labels": false, "grid": false, "title": null}},
    "y": {"field": "y", "type": "quantitative", "scale": {"domain": [-800, 400], "nice": false, "zero": false}, "axis": {"orient": "right", "values": [-800, -600, -400, -200, 0, 200, 400], "labels": false, "grid": false, "title": null}}}}
 ]},
{"width": 357, "height": 169, "data": {"name": "KBx"}, "title": {"text": "K", "fontSize": 9.5, "fontWeight": "bold", "offset": 3, "dy": 7, "anchor": "middle"},
 "resolve": {"axis": {"x": "independent", "y": "independent"}},
 "layer": [
  {"mark": {"type": "line", "strokeWidth": 1.6, "interpolate": "monotone", "clip": true},
   "encoding": {
    "x": {"field": "x", "type": "quantitative", "scale": {"domain": [-100, 100], "nice": false}, "axis": {"values": [-100, -50, 0, 50, 100], "title": null, "gridColor": {"condition": {"test": "datum.value == -100 || datum.value == 100", "value": "rgba(0,0,0,0)"}, "value": "#dedede"}}},
    "y": {"field": "y", "type": "quantitative", "scale": {"domain": [-800, 400], "nice": false, "zero": false}, "axis": {"values": [-800, -600, -400, -200, 0, 200, 400], "title": null, "gridColor": {"condition": {"test": "datum.value == -800 || datum.value == 400", "value": "rgba(0,0,0,0)"}, "value": "#dedede"}}},
    "color": {"field": "series", "type": "nominal", "sort": ["original", "minimized"], "scale": {"domain": ["original", "minimized"], "range": ["#0072BD", "#D95319"]}, "legend": null}}},
  {"mark": {"type": "line", "opacity": 0},
   "encoding": {
    "x": {"field": "x", "type": "quantitative", "scale": {"domain": [-100, 100], "nice": false}, "axis": {"orient": "top", "values": [-100, -50, 0, 50, 100], "labels": false, "grid": false, "title": null}},
    "y": {"field": "y", "type": "quantitative", "scale": {"domain": [-800, 400], "nice": false, "zero": false}, "axis": {"orient": "right", "values": [-800, -600, -400, -200, 0, 200, 400], "labels": false, "grid": false, "title": null}}}}
 ]},
{"width": 357, "height": 169, "data": {"name": "SBx"}, "title": {"text": "S", "fontSize": 9.5, "fontWeight": "bold", "offset": 3, "dy": 7, "anchor": "middle"},
 "resolve": {"axis": {"x": "independent", "y": "independent"}},
 "layer": [
  {"mark": {"type": "line", "strokeWidth": 1.6, "interpolate": "monotone", "clip": true},
   "encoding": {
    "x": {"field": "x", "type": "quantitative", "scale": {"domain": [-100, 100], "nice": false}, "axis": {"values": [-100, -50, 0, 50, 100], "title": null, "gridColor": {"condition": {"test": "datum.value == -100 || datum.value == 100", "value": "rgba(0,0,0,0)"}, "value": "#dedede"}}},
    "y": {"field": "y", "type": "quantitative", "scale": {"domain": [-600, 200], "nice": false, "zero": false}, "axis": {"values": [-600, -400, -200, 0, 200], "title": null, "gridColor": {"condition": {"test": "datum.value == -600 || datum.value == 200", "value": "rgba(0,0,0,0)"}, "value": "#dedede"}}},
    "color": {"field": "series", "type": "nominal", "sort": ["original", "minimized"], "scale": {"domain": ["original", "minimized"], "range": ["#0072BD", "#D95319"]},
     "legend": {"title": null, "orient": "top-right", "offset": 5, "fillColor": "white", "strokeColor": "#000000", "padding": 3, "symbolType": "M-2,0H2", "symbolSize": 121, "symbolOffset": 5.3, "symbolStrokeWidth": 1.6, "labelFontSize": 11, "labelColor": "#000000", "labelFont": "Liberation Sans", "rowPadding": 4.5, "labelOffset": 6.7, "cornerRadius": 0}}}},
  {"mark": {"type": "line", "opacity": 0},
   "encoding": {
    "x": {"field": "x", "type": "quantitative", "scale": {"domain": [-100, 100], "nice": false}, "axis": {"orient": "top", "values": [-100, -50, 0, 50, 100], "labels": false, "grid": false, "title": null}},
    "y": {"field": "y", "type": "quantitative", "scale": {"domain": [-600, 200], "nice": false, "zero": false}, "axis": {"orient": "right", "values": [-600, -400, -200, 0, 200], "labels": false, "grid": false, "title": null}}}}
 ]},
{"width": 357, "height": 169, "data": {"name": "PBy"},
 "resolve": {"axis": {"x": "independent", "y": "independent"}},
 "layer": [
  {"mark": {"type": "line", "strokeWidth": 1.6, "interpolate": "monotone", "clip": true},
   "encoding": {
    "x": {"field": "x", "type": "quantitative", "scale": {"domain": [-100, 100], "nice": false}, "axis": {"values": [-100, -50, 0, 50, 100], "title": null, "gridColor": {"condition": {"test": "datum.value == -100 || datum.value == 100", "value": "rgba(0,0,0,0)"}, "value": "#dedede"}}},
    "y": {"field": "y", "type": "quantitative", "scale": {"domain": [-400, 200], "nice": false, "zero": false}, "axis": {"values": [-400, -300, -200, -100, 0, 100, 200], "title": "By", "gridColor": {"condition": {"test": "datum.value == -400 || datum.value == 200", "value": "rgba(0,0,0,0)"}, "value": "#dedede"}}},
    "color": {"field": "series", "type": "nominal", "sort": ["original", "minimized"], "scale": {"domain": ["original", "minimized"], "range": ["#0072BD", "#D95319"]}, "legend": null}}},
  {"mark": {"type": "line", "opacity": 0},
   "encoding": {
    "x": {"field": "x", "type": "quantitative", "scale": {"domain": [-100, 100], "nice": false}, "axis": {"orient": "top", "values": [-100, -50, 0, 50, 100], "labels": false, "grid": false, "title": null}},
    "y": {"field": "y", "type": "quantitative", "scale": {"domain": [-400, 200], "nice": false, "zero": false}, "axis": {"orient": "right", "values": [-400, -300, -200, -100, 0, 100, 200], "labels": false, "grid": false, "title": null}}}}
 ]},
{"width": 357, "height": 169, "data": {"name": "KBy"},
 "resolve": {"axis": {"x": "independent", "y": "independent"}},
 "layer": [
  {"mark": {"type": "line", "strokeWidth": 1.6, "interpolate": "monotone", "clip": true},
   "encoding": {
    "x": {"field": "x", "type": "quantitative", "scale": {"domain": [-100, 100], "nice": false}, "axis": {"values": [-100, -50, 0, 50, 100], "title": null, "gridColor": {"condition": {"test": "datum.value == -100 || datum.value == 100", "value": "rgba(0,0,0,0)"}, "value": "#dedede"}}},
    "y": {"field": "y", "type": "quantitative", "scale": {"domain": [-21, 800], "nice": false, "zero": false}, "axis": {"values": [0, 200, 400, 600, 800], "title": null, "gridColor": {"condition": {"test": "datum.value == 800", "value": "rgba(0,0,0,0)"}, "value": "#dedede"}}},
    "color": {"field": "series", "type": "nominal", "sort": ["original", "minimized"], "scale": {"domain": ["original", "minimized"], "range": ["#0072BD", "#D95319"]}, "legend": null}}},
  {"mark": {"type": "line", "opacity": 0},
   "encoding": {
    "x": {"field": "x", "type": "quantitative", "scale": {"domain": [-100, 100], "nice": false}, "axis": {"orient": "top", "values": [-100, -50, 0, 50, 100], "labels": false, "grid": false, "title": null}},
    "y": {"field": "y", "type": "quantitative", "scale": {"domain": [-21, 800], "nice": false, "zero": false}, "axis": {"orient": "right", "values": [0, 200, 400, 600, 800], "labels": false, "grid": false, "title": null}}}}
 ]},
{"width": 357, "height": 169, "data": {"name": "SBy"},
 "resolve": {"axis": {"x": "independent", "y": "independent"}},
 "layer": [
  {"mark": {"type": "line", "strokeWidth": 1.6, "interpolate": "monotone", "clip": true},
   "encoding": {
    "x": {"field": "x", "type": "quantitative", "scale": {"domain": [-100, 100], "nice": false}, "axis": {"values": [-100, -50, 0, 50, 100], "title": null, "gridColor": {"condition": {"test": "datum.value == -100 || datum.value == 100", "value": "rgba(0,0,0,0)"}, "value": "#dedede"}}},
    "y": {"field": "y", "type": "quantitative", "scale": {"domain": [-3, 1129], "nice": false, "zero": false}, "axis": {"values": [0, 200, 400, 600, 800, 1000], "title": null, "gridColor": {"condition": {"test": "datum.value == 0", "value": "rgba(0,0,0,0)"}, "value": "#dedede"}}},
    "color": {"field": "series", "type": "nominal", "sort": ["original", "minimized"], "scale": {"domain": ["original", "minimized"], "range": ["#0072BD", "#D95319"]}, "legend": null}}},
  {"mark": {"type": "line", "opacity": 0},
   "encoding": {
    "x": {"field": "x", "type": "quantitative", "scale": {"domain": [-100, 100], "nice": false}, "axis": {"orient": "top", "values": [-100, -50, 0, 50, 100], "labels": false, "grid": false, "title": null}},
    "y": {"field": "y", "type": "quantitative", "scale": {"domain": [-3, 1129], "nice": false, "zero": false}, "axis": {"orient": "right", "values": [0, 200, 400, 600, 800, 1000], "labels": false, "grid": false, "title": null}}}}
 ]},
{"width": 357, "height": 169, "data": {"name": "PBz"},
 "resolve": {"axis": {"x": "independent", "y": "independent"}},
 "layer": [
  {"mark": {"type": "line", "strokeWidth": 1.6, "interpolate": "monotone", "clip": true},
   "encoding": {
    "x": {"field": "x", "type": "quantitative", "scale": {"domain": [-100, 100], "nice": false}, "axis": {"values": [-100, -50, 0, 50, 100], "title": null, "gridColor": {"condition": {"test": "datum.value == -100 || datum.value == 100", "value": "rgba(0,0,0,0)"}, "value": "#dedede"}}},
    "y": {"field": "y", "type": "quantitative", "scale": {"domain": [-1500, 500], "nice": false, "zero": false}, "axis": {"values": [-1500, -1000, -500, 0, 500], "title": "Bz", "gridColor": {"condition": {"test": "datum.value == -1500 || datum.value == 500", "value": "rgba(0,0,0,0)"}, "value": "#dedede"}}},
    "color": {"field": "series", "type": "nominal", "sort": ["original", "minimized"], "scale": {"domain": ["original", "minimized"], "range": ["#0072BD", "#D95319"]}, "legend": null}}},
  {"mark": {"type": "line", "opacity": 0},
   "encoding": {
    "x": {"field": "x", "type": "quantitative", "scale": {"domain": [-100, 100], "nice": false}, "axis": {"orient": "top", "values": [-100, -50, 0, 50, 100], "labels": false, "grid": false, "title": null}},
    "y": {"field": "y", "type": "quantitative", "scale": {"domain": [-1500, 500], "nice": false, "zero": false}, "axis": {"orient": "right", "values": [-1500, -1000, -500, 0, 500], "labels": false, "grid": false, "title": null}}}}
 ]},
{"width": 357, "height": 169, "data": {"name": "KBz"},
 "resolve": {"axis": {"x": "independent", "y": "independent"}},
 "layer": [
  {"mark": {"type": "line", "strokeWidth": 1.6, "interpolate": "monotone", "clip": true},
   "encoding": {
    "x": {"field": "x", "type": "quantitative", "scale": {"domain": [-100, 100], "nice": false}, "axis": {"values": [-100, -50, 0, 50, 100], "title": null, "gridColor": {"condition": {"test": "datum.value == -100 || datum.value == 100", "value": "rgba(0,0,0,0)"}, "value": "#dedede"}}},
    "y": {"field": "y", "type": "quantitative", "scale": {"domain": [-1500, 500], "nice": false, "zero": false}, "axis": {"values": [-1500, -1000, -500, 0, 500], "title": null, "gridColor": {"condition": {"test": "datum.value == -1500 || datum.value == 500", "value": "rgba(0,0,0,0)"}, "value": "#dedede"}}},
    "color": {"field": "series", "type": "nominal", "sort": ["original", "minimized"], "scale": {"domain": ["original", "minimized"], "range": ["#0072BD", "#D95319"]}, "legend": null}}},
  {"mark": {"type": "line", "opacity": 0},
   "encoding": {
    "x": {"field": "x", "type": "quantitative", "scale": {"domain": [-100, 100], "nice": false}, "axis": {"orient": "top", "values": [-100, -50, 0, 50, 100], "labels": false, "grid": false, "title": null}},
    "y": {"field": "y", "type": "quantitative", "scale": {"domain": [-1500, 500], "nice": false, "zero": false}, "axis": {"orient": "right", "values": [-1500, -1000, -500, 0, 500], "labels": false, "grid": false, "title": null}}}}
 ]},
{"width": 357, "height": 169, "data": {"name": "SBz"},
 "resolve": {"axis": {"x": "independent", "y": "independent"}},
 "layer": [
  {"mark": {"type": "line", "strokeWidth": 1.6, "interpolate": "monotone", "clip": true},
   "encoding": {
    "x": {"field": "x", "type": "quantitative", "scale": {"domain": [-100, 100], "nice": false}, "axis": {"values": [-100, -50, 0, 50, 100], "title": null, "gridColor": {"condition": {"test": "datum.value == -100 || datum.value == 100", "value": "rgba(0,0,0,0)"}, "value": "#dedede"}}},
    "y": {"field": "y", "type": "quantitative", "scale": {"domain": [-600, 600], "nice": false, "zero": false}, "axis": {"values": [-600, -400, -200, 0, 200, 400, 600], "title": null, "gridColor": {"condition": {"test": "datum.value == -600 || datum.value == 600", "value": "rgba(0,0,0,0)"}, "value": "#dedede"}}},
    "color": {"field": "series", "type": "nominal", "sort": ["original", "minimized"], "scale": {"domain": ["original", "minimized"], "range": ["#0072BD", "#D95319"]}, "legend": null}}},
  {"mark": {"type": "line", "opacity": 0},
   "encoding": {
    "x": {"field": "x", "type": "quantitative", "scale": {"domain": [-100, 100], "nice": false}, "axis": {"orient": "top", "values": [-100, -50, 0, 50, 100], "labels": false, "grid": false, "title": null}},
    "y": {"field": "y", "type": "quantitative", "scale": {"domain": [-600, 600], "nice": false, "zero": false}, "axis": {"orient": "right", "values": [-600, -400, -200, 0, 200, 400, 600], "labels": false, "grid": false, "title": null}}}}
 ]}
]
}
],
"spacing": 19.5,
"bounds": "flush",
"config": {
 "font": "Liberation Sans",
 "view": {"stroke": null},
 "axis": {"domain": true, "domainColor": "#262626", "domainWidth": 1, "grid": true, "gridWidth": 1, "tickColor": "#262626", "tickSize": -4, "labelFontSize": 10.8, "labelColor": "#262626", "labelPadding": 9, "labelFlush": false, "labelFont": "Liberation Sans", "labelExpr": "datum.value + ''", "titleFont": "Liberation Sans", "titleFontSize": 11, "titleFontWeight": "normal", "titleColor": "#262626"},
 "axisY": {"titlePadding": 3.5},
 "title": {"font": "Liberation Sans", "color": "#000000"}
}
}
